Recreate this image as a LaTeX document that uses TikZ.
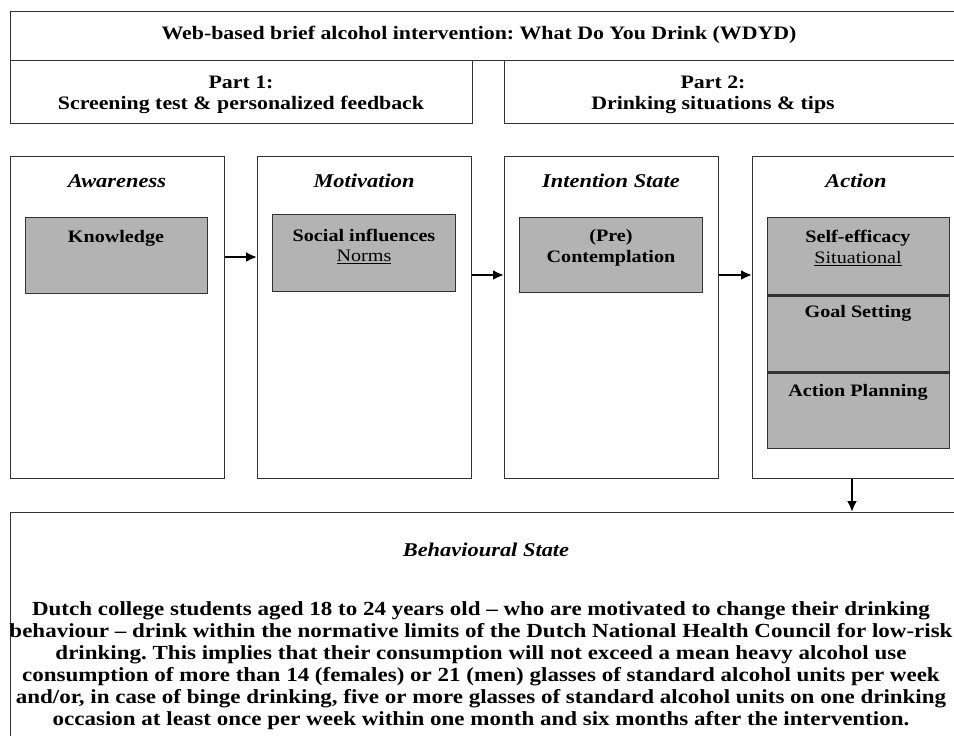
\documentclass[tikz,border=0pt]{standalone}
\usepackage{fontspec}
\setmainfont{Liberation Serif}[FakeStretch=1.15]
\usetikzlibrary{arrows.meta,calc}
\definecolor{edgec}{HTML}{333333}
\definecolor{fillg}{HTML}{B3B3B3}
\frenchspacing
\begin{document}
\begin{tikzpicture}[x=1pt,y=-1pt,
  frame/.style={draw=edgec, line width=1.4pt, rectangle, inner sep=0pt, anchor=north west},
  gbox/.style={frame, fill=fillg},
  txt/.style={font=\fontsize{19}{21.5}\selectfont\bfseries, inner sep=0pt, align=center, text=black},
  gtxt/.style={font=\fontsize{17.5}{21}\selectfont\bfseries, inner sep=0pt, align=center, text=black},
  reg/.style={font=\fontsize{17.5}{21}\selectfont, inner sep=0pt, text=black},
  ttl/.style={font=\fontsize{19.5}{22}\selectfont\bfseries\itshape, inner sep=0pt, text=black},
  arr/.style={-{Latex[length=11pt,width=10pt]}, line width=2.4pt, black}
]
\useasboundingbox (0,0) rectangle (954,736);
% header boxes
\node[frame, minimum width=960pt, minimum height=49pt] (head) at (10,11) {};
\node[frame, minimum width=462pt, minimum height=63pt] (p1) at (10,60) {};
\node[frame, minimum width=462pt, minimum height=63pt] (p2) at (504,60) {};
\node[txt] (headt) at (479,35) {Web-based brief alcohol intervention: What Do You Drink (WDYD)};
\node[txt] (p1t) at (241,95) {Part 1:\\Screening test \& personalized feedback};
\node[txt] (p2t) at (713,95) {Part 2:\\Drinking situations \& tips};
% columns
\node[frame, minimum width=214pt, minimum height=322pt] (aw) at (10,156) {};
\node[frame, minimum width=214pt, minimum height=322pt] (mo) at (257,156) {};
\node[frame, minimum width=214pt, minimum height=322pt] (in) at (504,156) {};
\node[frame, minimum width=214pt, minimum height=322pt] (ac) at (752,156) {};
\node[ttl] (awt) at (117,181) {Awareness};
\node[ttl] (mot) at (364,181) {Motivation};
\node[ttl] (int) at (611,181) {Intention State};
\node[ttl] (act) at (856,181) {Action};
% grey boxes
\node[gbox, minimum width=182pt, minimum height=76pt] (kn) at (25,217) {};
\node[gbox, minimum width=183pt, minimum height=77pt] (so) at (272,214) {};
\node[gbox, minimum width=183pt, minimum height=75pt] (pc) at (519,217) {};
\node[gbox, minimum width=182pt, minimum height=77pt] (se) at (767,217) {};
\node[gbox, minimum width=182pt, minimum height=77pt] (gs) at (767,294) {};
\node[gbox, minimum width=182pt, minimum height=77pt] (ap) at (767,371) {};
\draw[edgec, line width=2.2pt] (se.south west) -- (se.south east);
\draw[edgec, line width=2.2pt] (gs.south west) -- (gs.south east);
\node[gtxt] (knt) at (116,238) {Knowledge};
\node[gtxt] (sot) at (364,235) {Social influences};
\node[reg] (sou) at (364,257) {\underline{Norms}};
\node[gtxt] (pct) at (611,248) {(Pre)\\Contemplation};
\node[gtxt] (set) at (858,238) {Self-efficacy};
\node[reg] (seu) at (858,259) {\underline{Situational}};
\node[gtxt] (gst) at (858,313) {Goal Setting};
\node[gtxt] (apt) at (858,392) {Action Planning};
% behavioural state
\node[frame, minimum width=960pt, minimum height=260pt] (bh) at (10,512) {};
\node[ttl] (bht) at (486,550) {Behavioural State};
\node[txt, font=\fontsize{20}{22}\selectfont\bfseries, anchor=north] (bhb) at (481,601) {Dutch college students aged 18 to 24 years old -- who are motivated to change their drinking\\
behaviour -- drink within the normative limits of the Dutch National Health Council for low-risk\\
drinking. This implies that their consumption will not exceed a mean heavy alcohol use\\
consumption of more than 14 (females) or 21 (men) glasses of standard alcohol units per week\\
and/or, in case of binge drinking, five or more glasses of standard alcohol units on one drinking\\
occasion at least once per week within one month and six months after the intervention.};
% arrows
\draw[arr] ($(aw.north east)+(0,101)$) -- ($(mo.north west)+(0,101)$);
\draw[arr] ($(mo.north east)+(0,119)$) -- ($(in.north west)+(0,119)$);
\draw[arr] ($(in.north east)+(0,119)$) -- ($(ac.north west)+(0,119)$);
\draw[arr] ($(ac.south west)+(100,0)$) -- ($(bh.north west)+(842,0)$);
\end{tikzpicture}
\end{document}
